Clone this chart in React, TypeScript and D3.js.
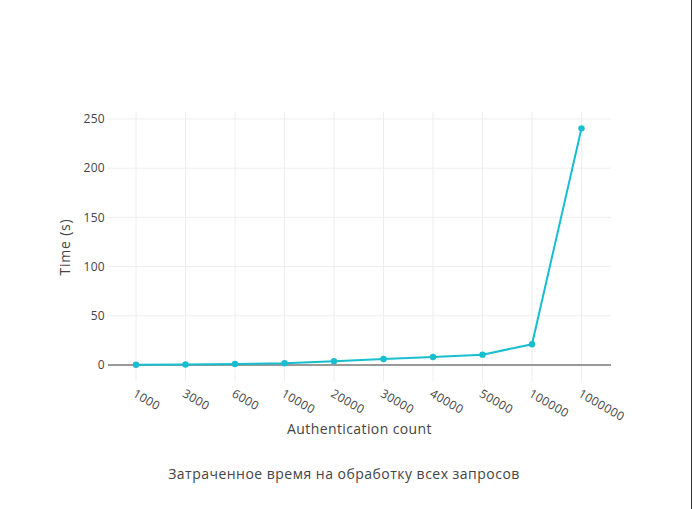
import { useEffect, useRef } from "react";
import * as d3 from "d3";

// ── Data ──────────────────────────────────────────────────────────────────────

const categories = ["1000", "3000", "6000", "10000", "20000", "30000", "40000", "50000", "100000", "1000000"];
const timeSeconds = [0.2, 0.5, 1.0, 1.8, 3.8, 6.1, 8.1, 10.5, 21.0, 240.5];
const yTicks = [0, 50, 100, 150, 200, 250];

const xTitle = "Authentication count";
const yTitle = "Time (s)";
const caption = "Затраченное время на обработку всех запросов";

// ── Layout ────────────────────────────────────────────────────────────────────

const W = 693;
const H = 509;
const PLOT = { left: 108, right: 611, top: 112, bottom: 381 };
const FONT = "'Open Sans', 'Noto Sans', sans-serif";
const LINE = "#17becf";

export default function App() {
  const svgRef = useRef<SVGSVGElement>(null);

  useEffect(() => {
    document.body.style.margin = "0";
    if (!svgRef.current) return;
    const svg = d3.select(svgRef.current);
    svg.selectAll("*").remove();

    const x = d3.scalePoint<string>().domain(categories).range([136, 581.5]);
    const y = d3.scaleLinear().domain([-16.3, 257.1]).range([PLOT.bottom, PLOT.top]);

    svg.append("rect").attr("width", W).attr("height", H).attr("fill", "#fff");

    // grid
    const grid = svg.append("g");
    grid
      .selectAll("line.v")
      .data(categories)
      .join("line")
      .attr("x1", (d) => x(d)!)
      .attr("x2", (d) => x(d)!)
      .attr("y1", PLOT.top)
      .attr("y2", PLOT.bottom)
      .attr("stroke", "#eee")
      .attr("stroke-width", 1);
    grid
      .selectAll("line.h")
      .data(yTicks.filter((t) => t !== 0))
      .join("line")
      .attr("x1", PLOT.left)
      .attr("x2", PLOT.right)
      .attr("y1", (d) => y(d))
      .attr("y2", (d) => y(d))
      .attr("stroke", "#eee")
      .attr("stroke-width", 1);

    // zero line
    svg
      .append("line")
      .attr("x1", PLOT.left)
      .attr("x2", PLOT.right)
      .attr("y1", y(0))
      .attr("y2", y(0))
      .attr("stroke", "#999")
      .attr("stroke-width", 2);

    // y tick labels
    svg
      .append("g")
      .selectAll("text")
      .data(yTicks)
      .join("text")
      .attr("x", PLOT.left - 3)
      .attr("y", (d) => y(d))
      .attr("dy", "0.35em")
      .attr("text-anchor", "end")
      .attr("font-family", FONT)
      .attr("font-size", 12)
      .attr("letter-spacing", 0.3)
      .attr("fill", "#444")
      .text((d) => d);

    // x tick labels (rotated 30°)
    svg
      .append("g")
      .selectAll("text")
      .data(categories)
      .join("text")
      .attr("transform", (d) => `translate(${x(d)! - 4},${396}) rotate(30)`)
      .attr("text-anchor", "start")
      .attr("font-family", FONT)
      .attr("font-size", 12)
      .attr("letter-spacing", 0.4)
      .attr("fill", "#444")
      .text((d) => d);

    // line + markers
    const pts = categories.map((c, i) => [x(c)!, y(timeSeconds[i])] as [number, number]);
    svg
      .append("path")
      .attr("d", d3.line()(pts))
      .attr("fill", "none")
      .attr("stroke", LINE)
      .attr("stroke-width", 2);
    svg
      .append("g")
      .selectAll("circle")
      .data(pts)
      .join("circle")
      .attr("cx", (d) => d[0])
      .attr("cy", (d) => d[1])
      .attr("r", 3.2)
      .attr("fill", LINE);

    // axis titles
    svg
      .append("text")
      .attr("x", (PLOT.left + PLOT.right) / 2)
      .attr("y", 434)
      .attr("text-anchor", "middle")
      .attr("font-family", FONT)
      .attr("font-size", 14)
      .attr("letter-spacing", 0.4)
      .attr("fill", "#444")
      .text(xTitle);
    svg
      .append("text")
      .attr("transform", `translate(70,247) rotate(-90)`)
      .attr("text-anchor", "middle")
      .attr("font-family", FONT)
      .attr("font-size", 14)
      .attr("letter-spacing", 0.8)
      .attr("fill", "#444")
      .text(yTitle);

    // caption
    svg
      .append("text")
      .attr("x", 344)
      .attr("y", 479)
      .attr("text-anchor", "middle")
      .attr("font-family", FONT)
      .attr("font-size", 14)
      .attr("letter-spacing", 0.48)
      .attr("fill", "#444")
      .text(caption);

    // right frame edge
    svg
      .append("line")
      .attr("x1", 691.5)
      .attr("x2", 691.5)
      .attr("y1", 0)
      .attr("y2", H)
      .attr("stroke", "#333")
      .attr("stroke-width", 1);
  }, []);

  return (
    <div style={{ position: "absolute", left: 0, top: 0 }}>
      <svg ref={svgRef} width={W} height={H} style={{ display: "block" }} />
    </div>
  );
}
